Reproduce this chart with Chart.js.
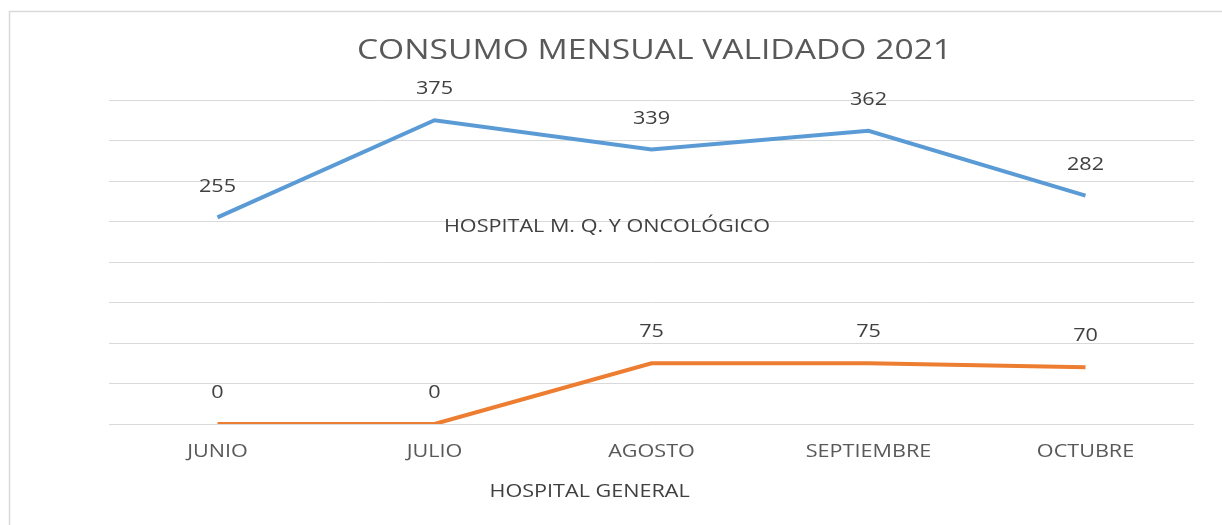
<!DOCTYPE html>
<html>
<head>
<meta charset="utf-8">
<script src="https://cdn.jsdelivr.net/npm/chart.js@4"></script>
<style>
  html, body { margin: 0; padding: 0; background: #fff; }
  #wrap { position: relative; width: 1222px; height: 525px; }
</style>
</head>
<body>
<div id="wrap"><canvas id="chart" width="1222" height="525"></canvas></div>
<script>
// Chart data
const months = ['JUNIO', 'JULIO', 'AGOSTO', 'SEPTIEMBRE', 'OCTUBRE'];
const oncologico = [255, 375, 339, 362, 282];
const general = [0, 0, 75, 75, 70];
const seriesNames = ['HOSPITAL M. Q. Y ONCOLÓGICO', 'HOSPITAL GENERAL'];
const chartTitle = 'CONSUMO MENSUAL VALIDADO 2021';
const yTicks = [0, 50, 100, 150, 200, 250, 300, 350, 400];

const FONT = "'Open Sans', 'Liberation Sans', sans-serif";
const STRETCH = 1.2; // the source picture is a bit wider than tall

// text drawn a little wider, like the original screenshot
function wideText(ctx, text, x, y, size, color) {
  ctx.save();
  ctx.font = size + 'px ' + FONT;
  ctx.fillStyle = color;
  ctx.textAlign = 'center';
  ctx.textBaseline = 'middle';
  ctx.translate(x, y);
  ctx.scale(STRETCH, 1);
  ctx.fillText(text, 0, 0);
  ctx.restore();
}

// frame round the chart, like the spreadsheet chart box
const framePlugin = {
  id: 'frame',
  beforeDraw(chart) {
    const ctx = chart.ctx;
    ctx.save();
    ctx.fillStyle = '#fff';
    ctx.fillRect(0, 0, chart.width, chart.height);
    ctx.strokeStyle = '#d9d9d9';
    ctx.lineWidth = 1.5;
    ctx.strokeRect(9.5, 11.5, chart.width + 20, chart.height + 20);
    ctx.restore();
  }
};

// title, month names and value labels
const textPlugin = {
  id: 'texts',
  afterDraw(chart) {
    const ctx = chart.ctx;
    const area = chart.chartArea;
    const xs = chart.scales.x;
    const ys = chart.scales.y;
    const mid = (area.left + area.right) / 2;

    wideText(ctx, chartTitle, mid + 3, area.top - 49, 28, '#595959');

    chart.data.labels.forEach((lab, i) => {
      wideText(ctx, lab, xs.getPixelForTick(i), area.bottom + 28, 18, '#595959');
    });

    chart.data.datasets.forEach((ds, i) => {
      chart.getDatasetMeta(i).data.forEach((pt, j) => {
        wideText(ctx, String(ds.data[j]), pt.x, pt.y - 31, 18, '#404040');
      });
    });

    wideText(ctx, seriesNames[0], area.left + (area.right - area.left) * 0.459, ys.getPixelForValue(243), 18, '#404040');
    wideText(ctx, seriesNames[1], area.left + (area.right - area.left) * 0.443, area.bottom + 68, 18, '#404040');
  }
};

new Chart(document.getElementById('chart'), {
  type: 'line',
  data: {
    labels: months,
    datasets: [
      {
        label: seriesNames[0],
        data: oncologico,
        borderColor: '#5b9bd5',
        borderWidth: 4,
        pointRadius: 0,
        tension: 0
      },
      {
        label: seriesNames[1],
        data: general,
        borderColor: '#ed7d31',
        borderWidth: 4,
        pointRadius: 0,
        tension: 0
      }
    ]
  },
  options: {
    responsive: false,
    animation: false,
    layout: {
      padding: { left: 109, right: 28, top: 100, bottom: 101 }
    },
    plugins: {
      legend: { display: false },
      tooltip: { enabled: false },
      title: { display: false }
    },
    scales: {
      x: {
        offset: true,
        grid: { display: false, drawTicks: false },
        border: { display: false },
        ticks: { display: false }
      },
      y: {
        min: 0,
        max: 400,
        afterBuildTicks(scale) {
          scale.ticks = yTicks.map(v => ({ value: v }));
        },
        grid: { color: '#d9d9d9', lineWidth: 1, drawTicks: false },
        border: { display: false },
        ticks: { display: false }
      }
    }
  },
  plugins: [framePlugin, textPlugin]
});
</script>
</body>
</html>
